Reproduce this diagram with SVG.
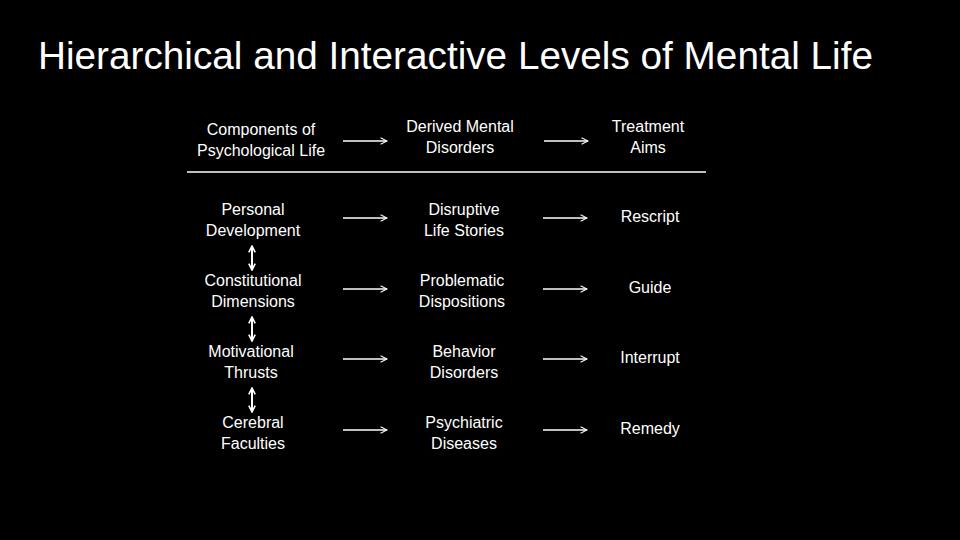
<svg xmlns="http://www.w3.org/2000/svg" width="960" height="540" viewBox="0 0 960 540">
<defs>
<marker id="ah" viewBox="0 0 10 10" refX="9" refY="5" markerWidth="8" markerHeight="8" markerUnits="userSpaceOnUse" orient="auto-start-reverse">
<path d="M1,1 L9,5 L1,9" fill="none" stroke="#fff" stroke-width="1.3"/>
</marker>
<marker id="vh" viewBox="0 0 10 10" refX="9" refY="5" markerWidth="8" markerHeight="8" markerUnits="userSpaceOnUse" orient="auto-start-reverse">
<path d="M1,1 L9,5 L1,9" fill="none" stroke="#fff" stroke-width="2"/>
</marker>
<style>
text{font-family:"Liberation Sans",Arial,sans-serif;fill:#fff;font-size:16px;text-anchor:middle}
.title{font-size:38px;text-anchor:start}
.c{stroke:#fff;stroke-width:1.3;fill:none}
.v{stroke:#fff;stroke-width:2;fill:none}
</style>
</defs>
<rect width="960" height="540" fill="#000"/>
<text class="title" x="38" y="69" textLength="835" lengthAdjust="spacingAndGlyphs">Hierarchical and Interactive Levels of Mental Life</text>

<g id="h1"><text x="261" y="135">Components of</text><text x="261" y="156">Psychological Life</text></g>
<g id="h2"><text x="460" y="132">Derived Mental</text><text x="460" y="153">Disorders</text></g>
<g id="h3"><text x="648" y="132">Treatment</text><text x="648" y="153">Aims</text></g>

<g id="r1c1"><text x="253" y="215">Personal</text><text x="253" y="236">Development</text></g>
<g id="r1c2"><text x="464" y="215">Disruptive</text><text x="464" y="236">Life Stories</text></g>
<g id="r1c3"><text x="650" y="222">Rescript</text></g>

<g id="r2c1"><text x="253" y="286">Constitutional</text><text x="253" y="307">Dimensions</text></g>
<g id="r2c2"><text x="462" y="286">Problematic</text><text x="462" y="307">Dispositions</text></g>
<g id="r2c3"><text x="650" y="293">Guide</text></g>

<g id="r3c1"><text x="251" y="357">Motivational</text><text x="251" y="378">Thrusts</text></g>
<g id="r3c2"><text x="464" y="357">Behavior</text><text x="464" y="378">Disorders</text></g>
<g id="r3c3"><text x="650" y="363">Interrupt</text></g>

<g id="r4c1"><text x="253" y="428">Cerebral</text><text x="253" y="449">Faculties</text></g>
<g id="r4c2"><text x="464" y="428">Psychiatric</text><text x="464" y="449">Diseases</text></g>
<g id="r4c3"><text x="650" y="434">Remedy</text></g>

<g id="connectors">
<line class="c" x1="187" y1="172" x2="706" y2="172"/>
<line class="c" x1="343" y1="141" x2="387" y2="141" marker-end="url(#ah)"/>
<line class="c" x1="544" y1="141" x2="588" y2="141" marker-end="url(#ah)"/>
<line class="c" x1="343" y1="218" x2="387" y2="218" marker-end="url(#ah)"/>
<line class="c" x1="543" y1="218" x2="587" y2="218" marker-end="url(#ah)"/>
<line class="c" x1="343" y1="289" x2="387" y2="289" marker-end="url(#ah)"/>
<line class="c" x1="543" y1="289" x2="587" y2="289" marker-end="url(#ah)"/>
<line class="c" x1="343" y1="359" x2="387" y2="359" marker-end="url(#ah)"/>
<line class="c" x1="543" y1="359" x2="587" y2="359" marker-end="url(#ah)"/>
<line class="c" x1="343" y1="430" x2="387" y2="430" marker-end="url(#ah)"/>
<line class="c" x1="543" y1="430" x2="587" y2="430" marker-end="url(#ah)"/>
<line class="v" x1="252" y1="246" x2="252" y2="270" marker-start="url(#vh)" marker-end="url(#vh)"/>
<line class="v" x1="252" y1="317" x2="252" y2="341" marker-start="url(#vh)" marker-end="url(#vh)"/>
<line class="v" x1="252" y1="388" x2="252" y2="412" marker-start="url(#vh)" marker-end="url(#vh)"/>
</g>
</svg>
